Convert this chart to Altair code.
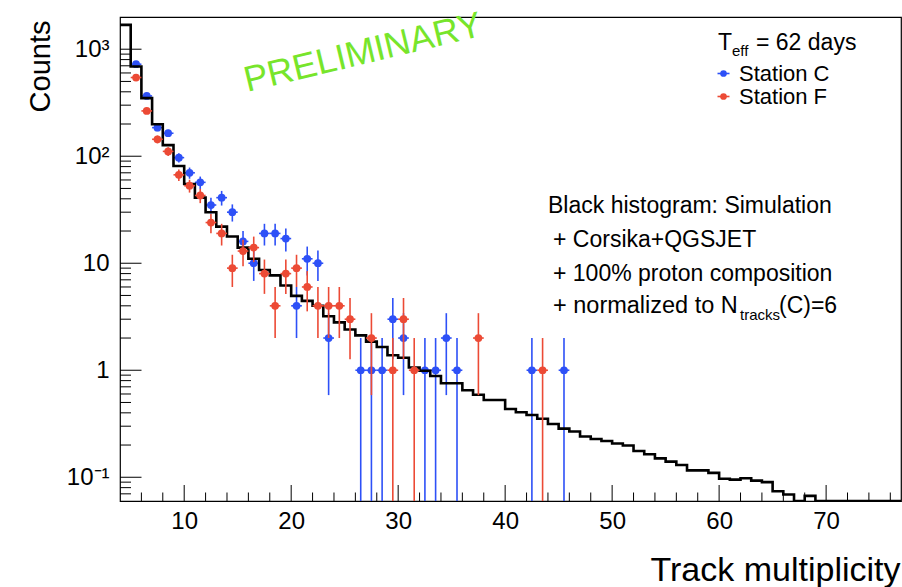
import altair as alt
import pandas as pd
import numpy as np

FONT = "Liberation Sans"

# ---------------- data ----------------
# simulation histogram: bins of width 1 starting at 4 (lower edges 4..76)
hist_start = 4
hist_counts = [1690, 689, 349, 199, 127, 81, 55, 41, 30, 22,
               17.8, 14, 11, 8.65, 7.7, 6.2, 4.95, 4.45, 4.0, 3.2,
               2.8, 2.4, 2.12, 1.85, 1.65, 1.38, 1.31, 1.06, 0.99, 0.885,
               0.757, 0.757, 0.65, 0.59, 0.527, 0.527, 0.435, 0.405, 0.382, 0.352,
               0.315, 0.285, 0.268, 0.24, 0.228, 0.218, 0.207, 0.198, 0.176, 0.164,
               0.15, 0.14, 0.13, 0.116, 0.116, 0.11, 0.097, 0.095, 0.098, 0.093,
               0.09, 0.074, 0.069, 0, 0.067, 0, 0, 0, 0, 0, 0, 0, 0]

# Station C (blue)
c_x = [5.5, 6.5, 7.5, 8.5, 9.5, 10.5, 11.5, 12.5, 13.5, 14.5,
       15.5, 16.5, 17.5, 18.5, 19.5, 20.5, 21.5, 22.5, 23.5, 26.5,
       27.5, 28.5, 29.5, 30.5, 32.5, 33.5, 34.5, 35.5, 42.5, 45.5]
c_counts = [724, 366, 185, 164, 97, 70, 57, 35, 41, 30,
            16, 10, 19, 19, 17, 4, 11, 10, 2, 1,
            1, 1, 3, 2, 1, 1, 2, 1, 1, 1]

# Station F (red)
f_x = [5.5, 6.5, 7.5, 8.5, 9.5, 10.5, 11.5, 12.5, 13.5, 14.5,
       15.5, 16.5, 17.5, 18.5, 19.5, 20.5, 21.5, 22.5, 23.5, 24.5,
       25.5, 27.5, 29.5, 30.5, 31.5, 37.5, 43.5]
f_counts = [544, 265, 144, 111, 67, 53, 43, 24, 19, 9,
            13, 14, 8, 4, 8, 9, 6, 4, 4, 4,
            3, 2, 1, 3, 1, 2, 1]

series_names = ["Station C", "Station F"]
series_colors = ["#2d50f7", "#ec4a35"]

# axes
x_domain = [4, 77]
y_domain = [0.06, 2000]
x_major = [10, 20, 30, 40, 50, 60, 70]
x_minor = [v for v in range(6, 77, 2) if v % 10 != 0]
y_major = [0.1, 1, 10, 100, 1000]
y_major_labels = ["10\u207b\u00b9", "1", "10", "10\u00b2", "10\u00b3"]
y_minor = ([0.07, 0.08, 0.09] + [k / 10 for k in range(2, 10)] + list(range(2, 10))
           + [k * 10 for k in range(2, 10)] + [k * 100 for k in range(2, 10)])

W, H = 781, 484
LEFT, TOP = 120, 17

# ---------------- frames ----------------
edges = [hist_start + i for i in range(len(hist_counts) + 1)]
hist_df = pd.DataFrame({"x": edges, "v": hist_counts + [hist_counts[-1]]})

pts = pd.concat([
    pd.DataFrame({"x": c_x, "v": c_counts, "series": series_names[0]}),
    pd.DataFrame({"x": f_x, "v": f_counts, "series": series_names[1]}),
], ignore_index=True)

xs = alt.Scale(domain=x_domain, nice=False, zero=False)
ys = alt.Scale(type="log", domain=y_domain, nice=False)

label_expr = "''"
for v, lab in zip(y_major, y_major_labels):
    label_expr = f"abs(datum.value - {v}) < {v * 0.01} ? '{lab}' : " + label_expr

x_axis = alt.Axis(values=x_major, title="Track multiplicity", labelFontSize=24,
                  labelPadding=8, titleFontSize=34, titleAlign="right",
                  titleBaseline="alphabetic", titleX=W - 1, titleY=79,
                  titleFontWeight="normal", labelFont=FONT, titleFont=FONT,
                  labelColor="black", titleColor="black", ticks=False, domain=False,
                  grid=False)
y_axis = alt.Axis(values=y_major, labelExpr=label_expr, title="Counts",
                  labelFontSize=24, labelPadding=11, titleFontSize=29,
                  titleAngle=270, titleAlign="right", titleBaseline="alphabetic",
                  titleX=-71, titleY=3, titleFontWeight="normal", labelFont=FONT,
                  titleFont=FONT, labelColor="black", titleColor="black",
                  ticks=False, domain=False, grid=False)


def X(field):
    return alt.X(field, scale=xs, axis=x_axis)


def Y(field):
    return alt.Y(field, scale=ys, axis=y_axis)


hist = alt.Chart(hist_df).transform_calculate(
    yv="max(datum.v, 0.06)"
).mark_line(interpolate="step-after", color="black", strokeWidth=2.6, clip=True).encode(
    x=X("x:Q"), y=Y("yv:Q"),
)


def series_layers(name, color_value):
    base = alt.Chart(pts).transform_filter(alt.datum.series == name).transform_calculate(
        lo="max(datum.v - sqrt(datum.v), 0.06)",
        hi="datum.v + sqrt(datum.v)",
        xl="datum.x - 0.5",
        xr="datum.x + 0.5",
    )
    vbar = base.mark_rule(strokeWidth=1.6, clip=True, color=color_value).encode(
        x=X("x:Q"), y=Y("lo:Q"), y2="hi:Q")
    hbar = base.mark_rule(strokeWidth=1.6, clip=True, color=color_value).encode(
        x=X("xl:Q"), x2="xr:Q", y=Y("v:Q"))
    dots = base.mark_point(filled=True, shape="circle", size=60, opacity=1, clip=True,
                           color=color_value).encode(x=X("x:Q"), y=Y("v:Q"))
    return [vbar, hbar, dots]


# inward ticks
def xticks(vals, length):
    return alt.Chart(pd.DataFrame({"t": vals})).mark_rule(color="black", strokeWidth=1).encode(
        x=X("t:Q"), y=alt.value(H), y2=alt.value(H - length))


def yticks(vals, length):
    return alt.Chart(pd.DataFrame({"t": vals})).mark_rule(color="black", strokeWidth=1).encode(
        y=Y("t:Q"), x=alt.value(0), x2=alt.value(length))


def txt(s, px, py, size, color="black", align="left", angle=0, baseline="alphabetic"):
    return alt.Chart(pd.DataFrame({"t": [s]})).mark_text(
        align=align, baseline=baseline, fontSize=size, font=FONT, color=color, angle=angle
    ).encode(x=alt.value(px - LEFT), y=alt.value(py - TOP), text="t:N")


def legend_marker(py, color_value):
    d = pd.DataFrame({"series": [0]})
    bar = alt.Chart(d).mark_rule(strokeWidth=1.6, color=color_value).encode(
        x=alt.value(717.5 - LEFT), x2=alt.value(729.5 - LEFT), y=alt.value(py - TOP))
    dot = alt.Chart(d).mark_point(filled=True, shape="circle", size=45, opacity=1,
                                  color=color_value).encode(
        x=alt.value(723.5 - LEFT), y=alt.value(py - TOP))
    return [bar, dot]


texts = [
    txt("T", 718, 49.5, 23),
    txt("eff", 732, 56, 15),
    txt("= 62 days", 756, 49.5, 23),
    txt("Station C", 739, 81, 22),
    txt("Station F", 739, 104, 22),
    txt("Black histogram: Simulation", 548, 213, 23),
    txt("+ Corsika+QGSJET", 553, 246.5, 23),
    txt("+ 100% proton composition", 553, 281, 23),
    txt("+ normalized to N", 553, 312.5, 23.5),
    txt("tracks", 740, 320, 15),
    txt("(C)=6", 779, 312.5, 23),
    txt("PRELIMINARY", 363, 53, 36, color="#77e52b", align="center", angle=346.5,
        baseline="middle"),
]

blue_layers = series_layers(series_names[0], series_colors[0])
red_layers = series_layers(series_names[1], series_colors[1])

chart = alt.layer(
    *blue_layers,
    hist,
    *red_layers,
    xticks(x_major, 16), xticks(x_minor, 8.5),
    yticks(y_major, 21.5), yticks(y_minor, 11),
    *legend_marker(73.5, series_colors[0]),
    *legend_marker(96.5, series_colors[1]),
    *texts,
).properties(
    width=W, height=H,
    autosize=alt.AutoSizeParams(type="none"),
    padding={"left": LEFT, "top": TOP, "right": 902 - LEFT - W, "bottom": 587 - TOP - H},
    background="white",
).configure_view(
    stroke="black", strokeWidth=1.2
)

chart.save("out.html", embed_options={"renderer": "svg", "actions": False})
